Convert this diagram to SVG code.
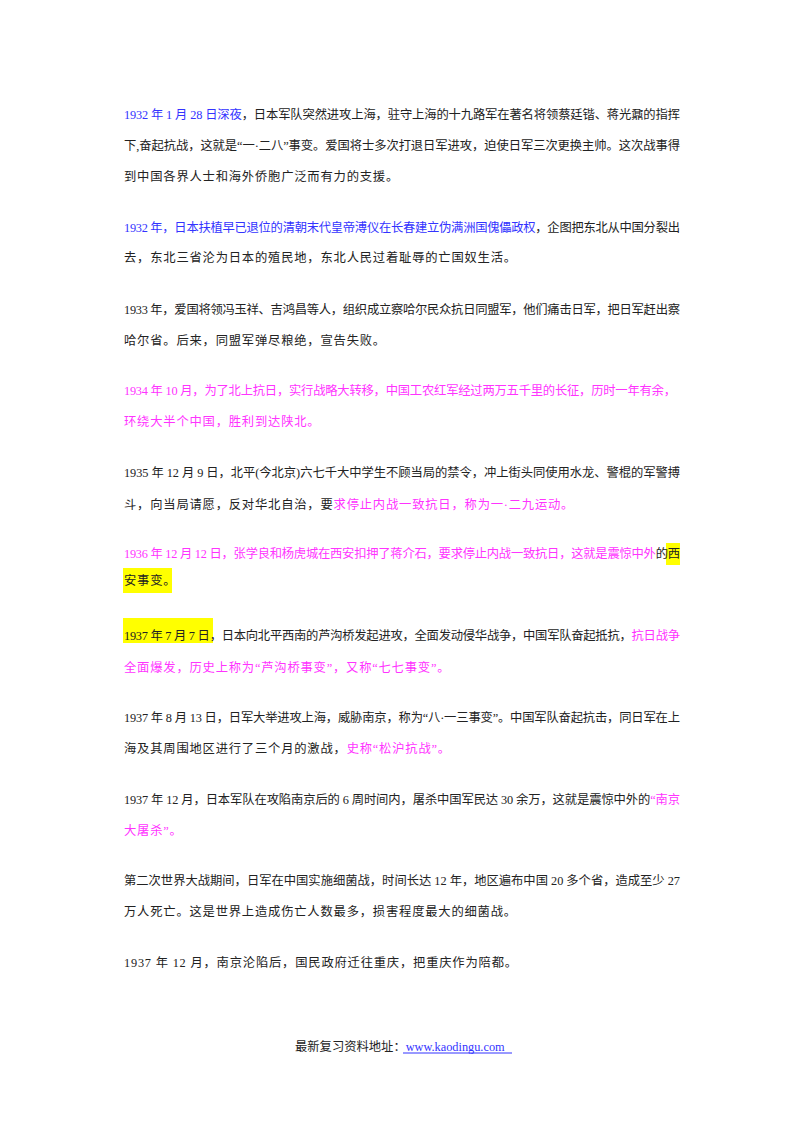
<svg xmlns="http://www.w3.org/2000/svg" width="800" height="1132" viewBox="0 0 800 1132">
<style>
text{font-family:"Liberation Serif","Noto Sans CJK SC",serif;font-size:12.3px;fill:#222}
.b{fill:#3333ff}.m{fill:#ff33ff}.k{fill:#222}
</style>
<rect width="800" height="1132" fill="#fff"/>
<g id="highlights" fill="#ffff00">
<rect x="666" y="543" width="14" height="22"/>
<rect x="123" y="568" width="49" height="25"/>
<rect x="123" y="618" width="90" height="25"/>
</g>
<g id="text">
<text x="124" y="119" textLength="556" lengthAdjust="spacing"><tspan class="b">1932 年 1 月 28 日深夜</tspan>，日本军队突然进攻上海，驻守上海的十九路军在著名将领蔡廷锴、蒋光鼐的指挥</text>
<text x="124" y="150" textLength="556" lengthAdjust="spacing">下,奋起抗战，这就是“一·二八”事变。爱国将士多次打退日军进攻，迫使日军三次更换主帅。这次战事得</text>
<text x="124" y="181" letter-spacing="0.8">到中国各界人士和海外侨胞广泛而有力的支援。</text>
<text x="124" y="232" textLength="556" lengthAdjust="spacing"><tspan class="b">1932 年，日本扶植早已退位的清朝末代皇帝溥仪在长春建立伪满洲国傀儡政权</tspan>，企图把东北从中国分裂出</text>
<text x="124" y="262" letter-spacing="0.8">去，东北三省沦为日本的殖民地，东北人民过着耻辱的亡国奴生活。</text>
<text x="124" y="314" textLength="556" lengthAdjust="spacing">1933 年，爱国将领冯玉祥、吉鸿昌等人，组织成立察哈尔民众抗日同盟军，他们痛击日军，把日军赶出察</text>
<text x="124" y="345" letter-spacing="0.8">哈尔省。后来，同盟军弹尽粮绝，宣告失败。</text>
<text x="124" y="395" class="m" textLength="552" lengthAdjust="spacing">1934 年 10 月，为了北上抗日，实行战略大转移，中国工农红军经过两万五千里的长征，历时一年有余，</text>
<text x="124" y="426" class="m" letter-spacing="0.8">环绕大半个中国，胜利到达陕北。</text>
<text x="124" y="477" textLength="556" lengthAdjust="spacing">1935 年 12 月 9 日，北平(今北京)六七千大中学生不顾当局的禁令，冲上街头同使用水龙、警棍的军警搏</text>
<text x="124" y="509" letter-spacing="0.8">斗，向当局请愿，反对华北自治，要<tspan class="m">求停止内战一致抗日，称为一·二九运动。</tspan></text>
<text x="124" y="558" textLength="556" lengthAdjust="spacing"><tspan class="m">1936 年 12 月 12 日，张学良和杨虎城在西安扣押了蒋介石，要求停止内战一致抗日，这就是震惊中外</tspan>的西</text>
<text x="124" y="585" letter-spacing="0.8">安事变。</text>
<text x="124" y="640" textLength="556" lengthAdjust="spacing">1937 年 7 月 7 日，日本向北平西南的芦沟桥发起进攻，全面发动侵华战争，中国军队奋起抵抗，<tspan class="m">抗日战争</tspan></text>
<text x="124" y="672" class="m" letter-spacing="0.8">全面爆发，历史上称为“芦沟桥事变”，又称“七七事变”。</text>
<text x="124" y="722" textLength="556" lengthAdjust="spacing">1937 年 8 月 13 日，日军大举进攻上海，威胁南京，称为“八·一三事变”。中国军队奋起抗击，同日军在上</text>
<text x="124" y="753" letter-spacing="0.8">海及其周围地区进行了三个月的激战，<tspan class="m">史称“松沪抗战”。</tspan></text>
<text x="124" y="804" textLength="556" lengthAdjust="spacing">1937 年 12 月，日本军队在攻陷南京后的 6 周时间内，屠杀中国军民达 30 余万，这就是震惊中外的<tspan class="m">“南京</tspan></text>
<text x="124" y="835" class="m" letter-spacing="0.8">大屠杀”。</text>
<text x="124" y="885" textLength="556" lengthAdjust="spacing">第二次世界大战期间，日军在中国实施细菌战，时间长达 12 年，地区遍布中国 20 多个省，造成至少 27</text>
<text x="124" y="916" letter-spacing="0.8">万人死亡。这是世界上造成伤亡人数最多，损害程度最大的细菌战。</text>
<text x="124" y="967" letter-spacing="0.8">1937 年 12 月，南京沦陷后，国民政府迁往重庆，把重庆作为陪都。</text>
</g>
<g id="footer">
<text x="295" y="1051">最新复习资料地址：<tspan class="b">www.kaodingu.com</tspan></text>
<line x1="403" y1="1053" x2="512" y2="1053" stroke="#3333ff" stroke-width="1"/>
</g>
</svg>
